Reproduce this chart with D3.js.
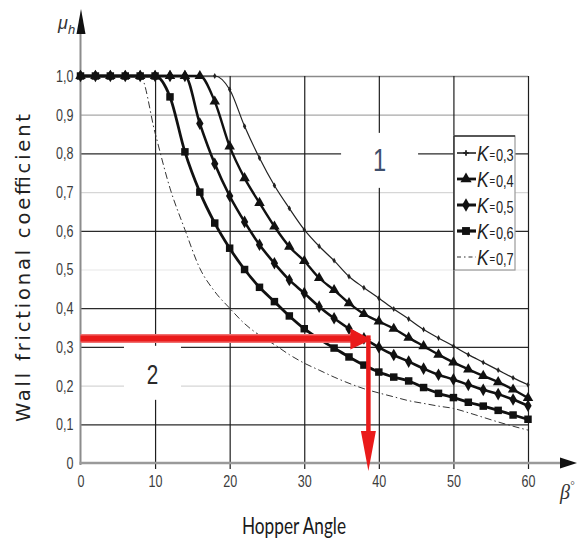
<!DOCTYPE html>
<html>
<head>
<meta charset="utf-8">
<script src="https://cdn.jsdelivr.net/npm/d3@7"></script>
<style>
  body { margin: 0; background: #fff; }
  svg { display: block; }
  .narrow { font-family: "Liberation Sans", "DejaVu Sans", sans-serif; }
</style>
</head>
<body>
<svg id="chart" width="578" height="541"></svg>
<script>
// Hopper half-angle β (degrees) at which each curve is sampled
const hopperAngles = [0, 2, 4, 6, 8, 10, 12, 14, 16, 18, 20, 22, 24, 26, 28, 30,
                      32, 34, 36, 38, 40, 42, 44, 46, 48, 50, 52, 54, 56, 58, 60];

// Limiting wall friction coefficient μh for each K
const kLabels = ["0,3", "0,4", "0,5", "0,6", "0,7"];
const muK03 = [1, 1, 1, 1, 1, 1, 1, 1, 1, 1, 0.965, 0.87, 0.788, 0.717, 0.658, 0.603,
               0.56, 0.523, 0.482, 0.453, 0.426, 0.398, 0.372, 0.345, 0.323, 0.302, 0.28, 0.26, 0.24, 0.22, 0.202];
const muK04 = [1, 1, 1, 1, 1, 1, 1, 1, 1, 0.934, 0.818, 0.736, 0.672, 0.611, 0.559, 0.522,
               0.478, 0.447, 0.413, 0.385, 0.366, 0.347, 0.324, 0.302, 0.28, 0.26, 0.242, 0.225, 0.209, 0.19, 0.168];
const muK05 = [1, 1, 1, 1, 1, 1, 1, 1, 0.877, 0.773, 0.69, 0.623, 0.564, 0.516, 0.473, 0.439,
               0.404, 0.374, 0.347, 0.322, 0.299, 0.279, 0.262, 0.244, 0.228, 0.216, 0.202, 0.189, 0.178, 0.164, 0.148];
const muK06 = [1, 1, 1, 1, 1, 1, 0.946, 0.804, 0.70, 0.62, 0.555, 0.50, 0.454, 0.417, 0.38, 0.347,
               0.32, 0.297, 0.274, 0.253, 0.235, 0.222, 0.212, 0.195, 0.18, 0.169, 0.157, 0.147, 0.136, 0.124, 0.113];
const muK07 = [1, 1, 1, 1, 1, 0.853, 0.71, 0.603, 0.503, 0.443, 0.40, 0.36, 0.33, 0.306, 0.28, 0.258,
               0.24, 0.222, 0.206, 0.192, 0.181, 0.171, 0.161, 0.154, 0.147, 0.141, 0.13, 0.118, 0.106, 0.095, 0.085];

// Axis ticks
const xTicks = [0, 10, 20, 30, 40, 50, 60];
const yTicks = [0, 0.1, 0.2, 0.3, 0.4, 0.5, 0.6, 0.7, 0.8, 0.9, 1.0];
const yTickLabels = ["0", "0,1", "0,2", "0,3", "0,4", "0,5", "0,6", "0,7", "0,8", "0,9", "1,0"];

// Region labels and the worked read-out (β, μh)
const regionNames = ["1", "2"];
const regionBeta = [40.1, 9.65];
const regionMu = [0.782, 0.233];
const readoutBeta = 38.6;
const readoutMu = 0.322;

const seriesMu = [muK03, muK04, muK05, muK06, muK07];

// ---- drawing ----
const svg = d3.select("#chart");
const x = d3.scaleLinear().domain([0, 60]).range([80.5, 528]);
const y = d3.scaleLinear().domain([0, 1]).range([463, 76]);
const plotW = x(60) - x(0);
const plotH = y(0) - y(1);
const squeeze = 0.74; // horizontal compression for the condensed numerals

function gridTone(v) {
  const k = Math.round(v * 10);
  if (k === 10) return ["#8a8a8a", 1.4];
  if (k === 9) return ["#a8a8a8", 1.3];
  if (k === 7 || k === 2) return ["#d6d6d6", 1.3];
  if (k === 5) return ["#e8e8e8", 1.2];
  return ["#2a2a2a", 1.3];
}

// horizontal grid + y tick labels
const gy = svg.append("g")
  .attr("transform", `translate(${x(0)},0)`)
  .call(d3.axisLeft(y).tickValues(yTicks)
    .tickFormat((d, i) => yTickLabels[i])
    .tickSizeInner(-plotW).tickSizeOuter(0).tickPadding(7));
gy.select(".domain").remove();
gy.selectAll(".tick line")
  .attr("stroke", d => gridTone(d)[0])
  .attr("stroke-width", d => gridTone(d)[1])
  .attr("display", d => d === 0 ? "none" : null);
gy.selectAll(".tick text")
  .attr("class", "narrow")
  .attr("font-size", 17)
  .attr("fill", "#3c3c3c")
  .attr("x", -7 / squeeze)
  .attr("transform", `scale(${squeeze},1)`);

// vertical grid + x tick labels
const gx = svg.append("g")
  .attr("transform", `translate(0,${y(0)})`)
  .call(d3.axisBottom(x).tickValues(xTicks)
    .tickSizeInner(-plotH).tickSizeOuter(0).tickPadding(12));
gx.select(".domain").remove();
gx.selectAll(".tick line")
  .attr("y1", 6)
  .attr("stroke", "#1e1e1e")
  .attr("stroke-width", 1.2)
  .attr("display", d => d === 0 ? "none" : null);
gx.selectAll(".tick text")
  .attr("class", "narrow")
  .attr("font-size", 17)
  .attr("fill", "#3c3c3c")
  .attr("transform", `scale(${squeeze},1)`);

// white panels behind region numbers
const regionBox = [[77, 55], [57, 54]];
regionNames.forEach((n, i) => {
  const cx = x(regionBeta[i]), cy = y(regionMu[i]);
  svg.append("rect")
    .attr("x", cx - regionBox[i][0] / 2).attr("y", cy - regionBox[i][1] / 2)
    .attr("width", regionBox[i][0]).attr("height", regionBox[i][1])
    .attr("fill", "#fff");
});

// axes with arrows
svg.append("line")
  .attr("x1", x(0)).attr("x2", x(0)).attr("y1", y(0) + 2).attr("y2", 32)
  .attr("stroke", "#8c8c8c").attr("stroke-width", 2);
svg.append("path")
  .attr("d", `M${x(0) + 0.5},9 L${x(0) - 4},34 L${x(0) + 5},34 Z`)
  .attr("fill", "#111");
svg.append("line")
  .attr("x1", x(0) - 1).attr("x2", 561).attr("y1", y(0)).attr("y2", y(0))
  .attr("stroke", "#9a9a9a").attr("stroke-width", 2.5);
svg.append("path")
  .attr("d", `M577,${y(0)} L560,${y(0) - 5.5} L560,${y(0) + 5.5} Z`)
  .attr("fill", "#111");

// curve styles
const styles = [
  { width: 1.2, color: "#222", dash: null, symbol: d3.symbolDiamond, size: 10 },
  { width: 2.4, color: "#111", dash: null, symbol: d3.symbolTriangle, size: 48 },
  { width: 2.6, color: "#111", dash: null, symbol: d3.symbolDiamond, size: 46 },
  { width: 2.8, color: "#111", dash: null, symbol: d3.symbolSquare, size: 56 },
  { width: 1.0, color: "#333", dash: "7,3,1.5,3", symbol: null, size: 0 }
];

const line = d3.line()
  .x((d, i) => x(hopperAngles[i]))
  .y(d => y(d))
  .curve(d3.curveMonotoneX);

const drawOrder = [4, 0, 2, 1, 3];
drawOrder.forEach(s => {
  const st = styles[s];
  const g = svg.append("g");
  g.append("path")
    .attr("d", line(seriesMu[s]))
    .attr("fill", "none")
    .attr("stroke", st.color)
    .attr("stroke-width", st.width)
    .attr("stroke-dasharray", st.dash)
    .attr("stroke-linejoin", "round");
  if (st.symbol) {
    g.selectAll("path.m")
      .data(seriesMu[s])
      .join("path")
      .attr("class", "m")
      .attr("transform", (d, i) => `translate(${x(hopperAngles[i])},${y(d)})`)
      .attr("d", d3.symbol().type(st.symbol).size(st.size))
      .attr("fill", st.color);
  }
});

// region numbers
regionNames.forEach((n, i) => {
  svg.append("g")
    .attr("transform", `translate(${x(regionBeta[i])},${y(regionMu[i]) + 11}) scale(${squeeze},1)`)
    .append("text")
    .attr("class", "narrow")
    .attr("text-anchor", "middle")
    .attr("font-size", i === 0 ? 32 : 28)
    .attr("fill", i === 0 ? "#3f4f6c" : "#2a2a2a")
    .text(n);
});

// legend
const lg = svg.append("g");
lg.append("rect")
  .attr("x", 454).attr("y", 136).attr("width", 61).attr("height", 134)
  .attr("fill", "#fff").attr("stroke", "#9a9a9a").attr("stroke-width", 1.2);
lg.append("line").attr("x1", 454).attr("x2", 454).attr("y1", 136).attr("y2", 270)
  .attr("stroke", "#222").attr("stroke-width", 1.2);
lg.append("line").attr("x1", 454).attr("x2", 515).attr("y1", 136).attr("y2", 136)
  .attr("stroke", "#333").attr("stroke-width", 1.3);
kLabels.forEach((k, i) => {
  const st = styles[i];
  const ry = 153 + i * 26;
  lg.append("line")
    .attr("x1", 457).attr("x2", 476).attr("y1", ry).attr("y2", ry)
    .attr("stroke", st.color).attr("stroke-width", i === 4 ? 1.2 : st.width + 0.4)
    .attr("stroke-dasharray", i === 4 ? "4,3,1.5,3" : null);
  if (st.symbol) {
    lg.append("path")
      .attr("transform", `translate(466,${ry})`)
      .attr("d", d3.symbol().type(i === 0 ? d3.symbolCross : st.symbol).size(i === 0 ? 16 : st.size + 6))
      .attr("fill", st.color);
  }
  const t = lg.append("g")
    .attr("transform", `translate(477,${ry + 8}) scale(0.8,1)`)
    .append("text").attr("class", "narrow").attr("fill", "#222");
  t.append("tspan").attr("font-size", 22).attr("font-style", "italic").text("K");
  t.append("tspan").attr("font-size", 12).attr("dx", 1).attr("dy", -2).text("=");
  t.append("tspan").attr("font-size", 16).attr("dx", 1).attr("dy", 2).text(k);
});

// read-out arrows
const rx = x(readoutBeta), ryv = y(readoutMu);
svg.append("line")
  .attr("x1", x(0)).attr("x2", rx - 17).attr("y1", ryv).attr("y2", ryv)
  .attr("stroke", "#f07070").attr("stroke-width", 9);
svg.append("line")
  .attr("x1", x(0)).attr("x2", rx - 17).attr("y1", ryv).attr("y2", ryv)
  .attr("stroke", "#ea1a1a").attr("stroke-width", 6);
svg.append("path")
  .attr("d", `M${rx + 3},${ryv + 1} L${rx - 18},${ryv - 10} L${rx - 18},${ryv + 11} Z`)
  .attr("fill", "#ea1a1a");
svg.append("line")
  .attr("x1", rx).attr("x2", rx).attr("y1", ryv - 3).attr("y2", y(0) - 30)
  .attr("stroke", "#ea1a1a").attr("stroke-width", 4.5);
svg.append("path")
  .attr("d", `M${rx},${y(0) + 8} L${rx - 7.5},${y(0) - 32} L${rx + 7.5},${y(0) - 32} Z`)
  .attr("fill", "#ea1a1a");

// axis symbols
const mu = svg.append("text").attr("x", 58).attr("y", 29).attr("fill", "#333")
  .attr("font-family", "Liberation Sans, sans-serif").attr("font-style", "italic");
mu.append("tspan").attr("font-size", 18).text("μ");
mu.append("tspan").attr("font-size", 13).attr("dy", 5).text("h");

const beta = svg.append("text").attr("x", 560).attr("y", 499).attr("fill", "#333")
  .attr("font-family", "Liberation Serif, serif").attr("font-style", "italic");
beta.append("tspan").attr("font-size", 20).text("β");
beta.append("tspan").attr("font-size", 11).attr("dy", -10).text("°");

// axis titles
svg.append("text")
  .attr("transform", "translate(30,268) rotate(-90)")
  .attr("text-anchor", "middle")
  .attr("font-family", "DejaVu Sans, sans-serif")
  .attr("font-size", 19.5)
  .attr("fill", "#222")
  .attr("textLength", 308)
  .attr("lengthAdjust", "spacing")
  .text("Wall frictional coefficient");

svg.append("text")
  .attr("x", 294).attr("y", 534)
  .attr("text-anchor", "middle")
  .attr("font-family", "Lato, 'Open Sans', sans-serif")
  .attr("font-size", 23)
  .attr("fill", "#1a1a1a")
  .attr("textLength", 104)
  .attr("lengthAdjust", "spacingAndGlyphs")
  .text("Hopper Angle");
</script>
</body>
</html>
